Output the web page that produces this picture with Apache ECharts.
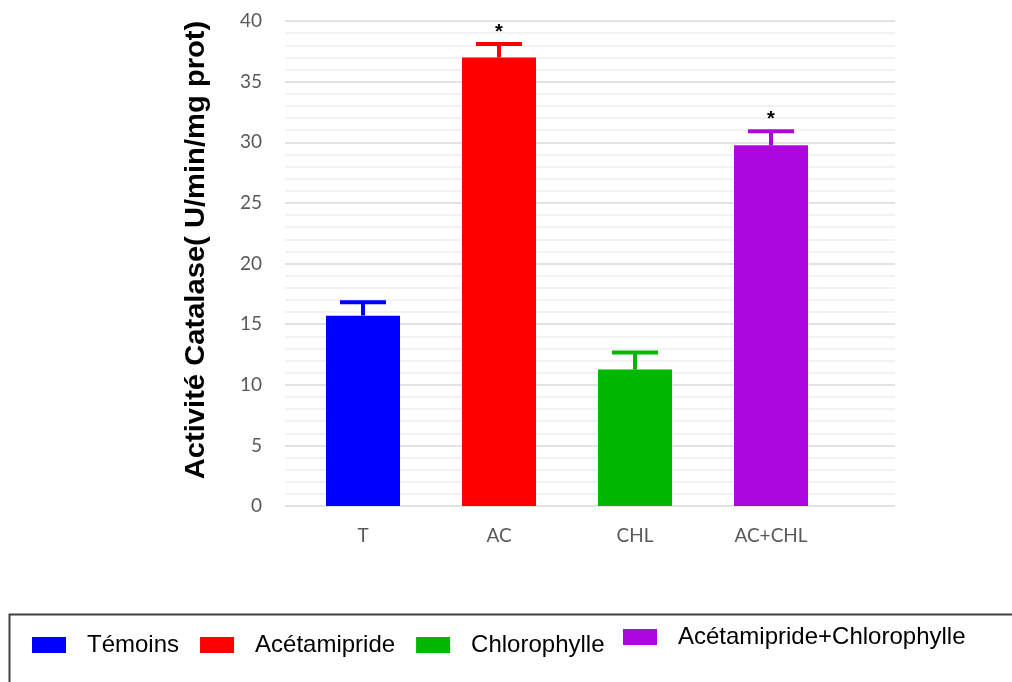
<!DOCTYPE html>
<html>
<head>
<meta charset="utf-8">
<script src="https://cdn.jsdelivr.net/npm/echarts@6/dist/echarts.min.js"></script>
<style>
  html, body { margin: 0; padding: 0; background: #ffffff; }
  #chart { width: 1012px; height: 682px; }
</style>
</head>
<body>
<div id="chart"></div>
<script>
// Catalase activity per treatment group (U/min/mg prot)
const categories = ['T', 'AC', 'CHL', 'AC+CHL'];
const groupNames = ['Témoins', 'Acétamipride', 'Chlorophylle', 'Acétamipride+Chlorophylle'];
const means = [15.7, 37.0, 11.25, 29.75];
const errors = [1.1, 1.1, 1.4, 1.15];
const significance = ['', '*', '', '*'];
const colors = ['#0000ff', '#ff0000', '#00b800', '#ad07e0'];
const yTicks = { min: 0, max: 40, interval: 5 };
const yTitle = 'Activité Catalase( U/min/mg prot)';

const chart = echarts.init(document.getElementById('chart'), null, { renderer: 'canvas' });

const gridTop = 21, gridBottom = 176;

// One bar series per group so each gets its own legend entry
const barSeries = groupNames.map((name, i) => ({
  name: name,
  type: 'bar',
  xAxisIndex: 1,
  yAxisIndex: 1,
  barWidth: 74,
  barGap: '-100%',
  itemStyle: { color: colors[i] },
  data: means.map((v, j) => (j === i ? v : '-')),
  z: 3
}));

// Upper error bars with a significance star above the cap
const errorSeries = {
  type: 'custom',
  xAxisIndex: 1,
  yAxisIndex: 1,
  z: 4,
  silent: true,
  data: means.map((v, j) => [j, v, v + errors[j]]),
  renderItem: function (params, api) {
    const idx = api.value(0);
    const base = api.coord([idx, api.value(1)]);
    const top = api.coord([idx, api.value(2)]);
    const color = colors[idx];
    const capHalf = 23;
    const children = [
      { type: 'line', shape: { x1: base[0], y1: base[1], x2: top[0], y2: top[1] },
        style: { stroke: color, lineWidth: 4 } },
      { type: 'line', shape: { x1: top[0] - capHalf, y1: top[1], x2: top[0] + capHalf, y2: top[1] },
        style: { stroke: color, lineWidth: 4 } }
    ];
    if (significance[idx]) {
      children.push({
        type: 'text',
        x: top[0], y: top[1] - 12,
        style: { text: significance[idx], fill: '#000', font: 'bold 20px "Liberation Sans", Arial, sans-serif',
                 align: 'center', verticalAlign: 'middle' }
      });
    }
    return { type: 'group', children: children };
  }
};

const legendText = {
  color: '#000', fontSize: 24, lineHeight: 26,
  fontFamily: '"Liberation Sans", Arial, sans-serif',
  padding: [0, 0, 0, 16]
};

chart.setOption({
  animation: false,
  backgroundColor: '#ffffff',
  grid: [
    { left: 285, right: 1012 - 895, top: gridTop, bottom: gridBottom },
    { left: 295, right: 1012 - 839, top: gridTop, bottom: gridBottom }
  ],
  xAxis: [
    { type: 'category', gridIndex: 0, data: categories, show: false },
    { type: 'category', gridIndex: 1, data: categories,
      axisLine: { show: false }, axisTick: { show: false },
      axisLabel: { color: '#595959', fontSize: 19, margin: 20,
                   fontFamily: 'Lato, "Open Sans", sans-serif' } }
  ],
  yAxis: [
    { type: 'value', gridIndex: 0, min: yTicks.min, max: yTicks.max, interval: yTicks.interval,
      axisLine: { show: false }, axisTick: { show: false },
      axisLabel: { color: '#595959', fontSize: 19, margin: 23,
                   fontFamily: 'Lato, "Open Sans", sans-serif' },
      splitLine: { show: true, lineStyle: { color: '#d9d9d9', width: 1.5 } },
      minorTick: { show: false, splitNumber: 5 },
      minorSplitLine: { show: true, lineStyle: { color: '#eeeeee', width: 1.5 } } },
    { type: 'value', gridIndex: 1, min: yTicks.min, max: yTicks.max, interval: yTicks.interval, show: false,
      splitLine: { show: false } }
  ],
  legend: [
    { data: groupNames.slice(0, 3), left: 32, top: 632, orient: 'horizontal',
      itemWidth: 34, itemHeight: 16, itemGap: 21, icon: 'rect', selectedMode: false,
      padding: 0, textStyle: legendText },
    { data: groupNames.slice(3), left: 623, top: 624, orient: 'horizontal',
      itemWidth: 34, itemHeight: 16, itemGap: 21, icon: 'rect', selectedMode: false,
      padding: 0, textStyle: legendText }
  ],
  graphic: [
    // legend frame
    { type: 'rect', left: 7, top: 612, shape: { width: 1020, height: 90 },
      style: { fill: 'none', stroke: '#404040', lineWidth: 2 }, z: 0, silent: true },
    // y-axis title, rotated and stretched along its length
    { type: 'text', x: 197, y: 250, rotation: Math.PI / 2, scaleX: 1.08, scaleY: 1,
      silent: true,
      style: { text: yTitle, fill: '#000', font: 'bold 27px "Liberation Sans", Arial, sans-serif',
               align: 'center', verticalAlign: 'middle' } }
  ],
  series: barSeries.concat([errorSeries])
});
</script>
</body>
</html>
